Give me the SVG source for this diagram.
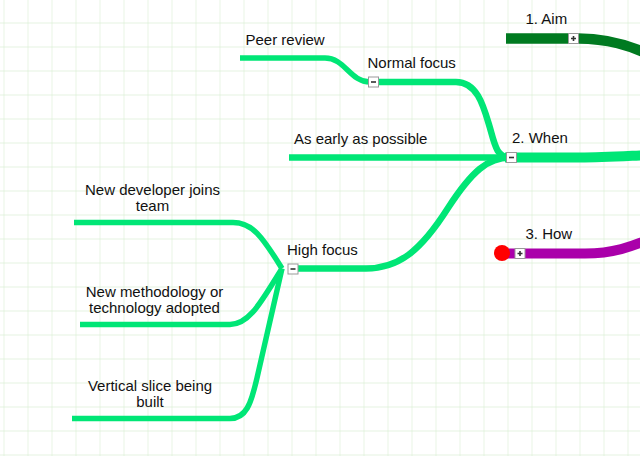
<svg xmlns="http://www.w3.org/2000/svg" width="640" height="456" viewBox="0 0 640 456">
<defs>
<pattern id="grid" x="3.5" y="22.5" width="24" height="24" patternUnits="userSpaceOnUse">
<path d="M0,0 H24 M0,0 V24" fill="none" stroke="#dcefd6" stroke-width="1.3"/>
</pattern>
</defs>
<style>
text{font-family:"Liberation Sans",Arial,sans-serif;font-size:15px;fill:#111}
.c{fill:none;stroke:#00e676;stroke-linecap:butt;stroke-linejoin:round}
.tog rect{fill:#fff;stroke:#999;stroke-width:1}
.tog path{stroke:#333;stroke-width:1.6;fill:none}
</style>
<rect width="640" height="456" fill="#fff"/>
<rect width="640" height="456" fill="url(#grid)"/>
<g id="connectors">
<path class="c" stroke-width="5.5" d="M240,58 L325,58 C345,58 350,82 370,82"/>
<path class="c" stroke-width="6.5" d="M370,82 L456,82 C478,82 484,108 490,128 C495,146 497,157.5 510,157.5"/>
<path class="c" stroke-width="6.5" d="M289,157.5 L510,157.5"/>
<path class="c" stroke-width="6.5" d="M293,268.5 L366,268.5 C398,268.5 420,252 448,208 C472,171 488,157.5 510,157.5"/>
<path class="c" stroke-width="5.5" d="M74,222.5 L233,222.5 C252,222.5 262,236 282,268.5"/>
<path class="c" stroke-width="5.5" d="M80,324.5 L230,324.5 C250,324.5 262,300 282,268.5"/>
<path class="c" stroke-width="5.5" d="M72,418.5 L230,418.5 C246,418.5 251,404 257,378 L282,268.5"/>
<path class="c" stroke-width="10" d="M505,157.5 L580,157.5 C605,157.5 625,156 660,154.5"/>
<path fill="none" stroke="#007a20" stroke-width="10.5" d="M506,38.5 L578,38.5 C605,38.5 630,44 660,60 C670,66 680,74 690,84"/>
<path fill="none" stroke="#aa00aa" stroke-width="10" d="M503,253.5 L585,253.5 C610,253.5 630,249 665,232"/>
</g>
<g id="aim">
<text x="525.5" y="24">1. Aim</text>
<g class="tog"><rect x="568.5" y="33.5" width="10" height="10"/><path d="M571,38.5 H576 M573.5,36 V41"/></g>
</g>
<g id="when">
<text x="512" y="143">2. When</text>
<g class="tog"><rect x="506.5" y="152.5" width="10" height="10"/><path d="M509,157.5 H514"/></g>
</g>
<g id="how">
<text x="525.5" y="239">3. How</text>
<circle cx="502" cy="253" r="8" fill="#ff0000"/>
<g class="tog"><rect x="515" y="248.5" width="10" height="10"/><path d="M517.5,253.5 H522.5 M520,251 V256"/></g>
</g>
<g id="normal-focus">
<text x="367.5" y="68">Normal focus</text>
<g class="tog"><rect x="368.5" y="77" width="10" height="10"/><path d="M371,82 H376"/></g>
</g>
<g id="peer-review">
<text x="245.5" y="45">Peer review</text>
</g>
<g id="as-early">
<text x="294" y="143.5">As early as possible</text>
</g>
<g id="high-focus">
<text x="287" y="255">High focus</text>
<g class="tog"><rect x="288" y="264" width="10" height="10"/><path d="M290.5,269 H295.5"/></g>
</g>
<g id="new-developer">
<text x="152.5" y="195" text-anchor="middle">New developer joins</text>
<text x="152.5" y="211" text-anchor="middle">team</text>
</g>
<g id="new-methodology">
<text x="154.5" y="297" text-anchor="middle">New methodology or</text>
<text x="154.5" y="313" text-anchor="middle">technology adopted</text>
</g>
<g id="vertical-slice">
<text x="150" y="390.5" text-anchor="middle">Vertical slice being</text>
<text x="150" y="406.5" text-anchor="middle">built</text>
</g>
</svg>
